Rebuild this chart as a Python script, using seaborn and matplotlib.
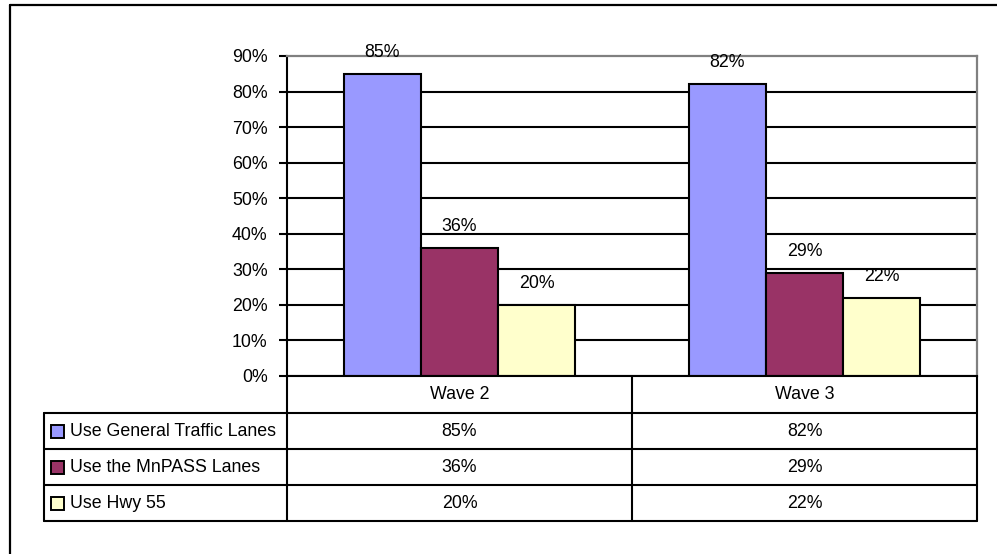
import matplotlib
matplotlib.use("Agg")
import matplotlib.pyplot as plt
from matplotlib.lines import Line2D
from matplotlib.patches import Rectangle
from matplotlib.transforms import blended_transform_factory
import pandas as pd
import seaborn as sns

# ---- data -------------------------------------------------------------
waves = ["Wave 2", "Wave 3"]
series = ["Use General Traffic Lanes", "Use the MnPASS Lanes", "Use Hwy 55"]
general_lanes = [85, 82]
mnpass_lanes = [36, 29]
hwy55 = [20, 22]
colors = ["#9999FF", "#993366", "#FFFFCC"]
y_ticks = [0, 10, 20, 30, 40, 50, 60, 70, 80, 90]

values = [general_lanes, mnpass_lanes, hwy55]
df = pd.DataFrame({
    "wave": waves * len(series),
    "series": [s for s in series for _ in waves],
    "pct": general_lanes + mnpass_lanes + hwy55,
})

# ---- style ------------------------------------------------------------
sns.set_style("white")
plt.rcParams["font.family"] = ["Liberation Sans", "DejaVu Sans"]
plt.rcParams["text.color"] = "black"
plt.rcParams["axes.labelcolor"] = "black"
plt.rcParams["ytick.labelcolor"] = "black"
plt.rcParams["xtick.labelcolor"] = "black"
FS = 12.8
LW = 1.5

W, H = 997, 554
fig = plt.figure(figsize=(W / 100, H / 100), dpi=100)
fig.patch.set_facecolor("white")


def fx(px):
    return px / W


def fy(py):
    return 1 - py / H


L, R, T, B = 287, 977, 56, 376
ax = fig.add_axes([fx(L), fy(B), (R - L) / W, (B - T) / H])

sns.barplot(data=df, x="wave", y="pct", hue="series", order=waves,
            hue_order=series, palette=colors, saturation=1, width=0.67,
            edgecolor="black", linewidth=LW, legend=False, ax=ax)

ax.set_xlim(-0.5, len(waves) - 0.5)
ax.set_ylim(0, 90)
ax.set_yticks(y_ticks)
ax.set_yticklabels([f"{t}%" for t in y_ticks], fontsize=FS, color="black")
ax.set_xlabel("")
ax.set_ylabel("")
ax.tick_params(axis="x", bottom=False, labelbottom=False)
ax.tick_params(axis="y", left=True, length=6, width=LW, color="black",
               pad=8, direction="out", labelsize=FS, labelcolor="black")

ax.set_axisbelow(True)
ax.yaxis.grid(True, color="black", linewidth=LW)
ax.xaxis.grid(False)
ax.yaxis.get_gridlines()[-1].set_visible(False)

for side in ("left", "bottom"):
    ax.spines[side].set_color("black")
    ax.spines[side].set_linewidth(LW)
for side in ("top", "right"):
    ax.spines[side].set_color("#808080")
    ax.spines[side].set_linewidth(1.6)

for container, vals in zip(ax.containers, values):
    ax.bar_label(container, labels=[f"{v}%" for v in vals], padding=9.5,
                 fontsize=FS, color="black")

# ---- data table under the plot ---------------------------------------
col_tr = blended_transform_factory(ax.transData, fig.transFigure)
row_edges = [376, 413, 449, 485, 521]
label_left = 44

# column separators (category boundaries)
for xb in [-0.5 + i for i in range(len(waves) + 1)]:
    fig.add_artist(Line2D([xb, xb], [fy(row_edges[0]), fy(row_edges[-1])],
                          transform=col_tr, color="black", lw=LW,
                          clip_on=False))
# left edge of label column
fig.add_artist(Line2D([fx(label_left)] * 2, [fy(row_edges[1]), fy(row_edges[-1])],
                      color="black", lw=LW))
# row lines
for yb in row_edges[1:]:
    fig.add_artist(Line2D([fx(label_left), fx(R)], [fy(yb)] * 2,
                          color="black", lw=LW))

# header row: wave names centred on their categories
hdr_y = fy((row_edges[0] + row_edges[1]) / 2)
for i, w in enumerate(waves):
    fig.text(i, hdr_y, w, transform=col_tr, ha="center", va="center",
             fontsize=FS, color="black")

# body rows: legend swatch, series name, values per wave
for r, (name, vals, col) in enumerate(zip(series, values, colors)):
    yc = (row_edges[r + 1] + row_edges[r + 2]) / 2
    fig.add_artist(Rectangle((fx(51), fy(yc + 6.5)), 13 / W, 13 / H,
                             facecolor=col, edgecolor="black", lw=1.4))
    fig.text(fx(70), fy(yc), name, ha="left", va="center", fontsize=FS,
             color="black")
    for i, v in enumerate(vals):
        fig.text(i, fy(yc), f"{v}%", transform=col_tr, ha="center",
                 va="center", fontsize=FS, color="black")

# ---- outer frame -----------------------------------------------------
fig.add_artist(Line2D([fx(10), fx(1005)], [fy(5), fy(5)], color="black", lw=1.6))
fig.add_artist(Line2D([fx(10), fx(10)], [fy(5), fy(560)], color="black", lw=1.6))

fig.savefig("out.png", dpi=100)
